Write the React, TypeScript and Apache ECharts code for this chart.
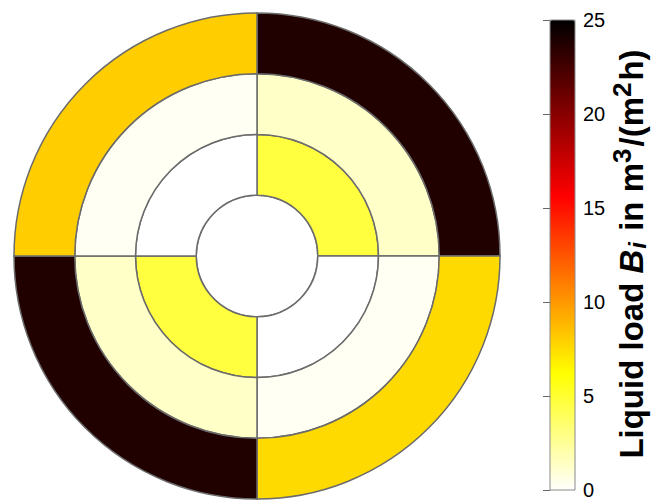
import React, { useEffect, useRef } from "react";
import * as echarts from "echarts";

// Quadrants, clockwise from the top (angle axis values in degrees)
const quadrants = ["NE", "SE", "SW", "NW"];
const quadrantStart = [0, 90, 180, 270];
const quadrantEnd = [90, 180, 270, 360];

// Ring edges on the radius axis (centre disc = ring 0)
const ringInner = [0, 1, 2, 3];
const ringOuter = [1, 2, 3, 4];

// Liquid load per ring and quadrant (NE, SE, SW, NW)
const centreValue = 0;
const ring1Values = [4.7, 0, 4.7, 0];
const ring2Values = [1.35, 0.3, 1.35, 0.3];
const ring3Values = [23.8, 7.6, 23.8, 8.1];

// Colour bar ticks
const colorbarTicks = [0, 5, 10, 15, 20, 25];

// reversed "hot" colormap stops (evenly spaced 0..25)
const hotReversed = [
  "#ffffff", "#ffff80", "#ffff00", "#ffaa00", "#ff5500",
  "#ff0000", "#aa0000", "#550000", "#000000",
];

export default function App() {
  const ref = useRef<HTMLDivElement>(null);
  useEffect(() => {
    document.body.style.margin = "0";
    const chart = echarts.init(ref.current!, null, { renderer: "svg" });

    const data: number[][] = [];
    data.push([ringInner[0], ringOuter[0], 0, 360, centreValue]);
    const rings = [ring1Values, ring2Values, ring3Values];
    rings.forEach((vals, ri) => {
      vals.forEach((v, qi) => {
        data.push([ringInner[ri + 1], ringOuter[ri + 1], quadrantStart[qi], quadrantEnd[qi], v]);
      });
    });

    const font = "'Liberation Sans', Arial, sans-serif";

    const option: any = {
      animation: false,
      polar: { center: [257, 256], radius: 243 },
      angleAxis: {
        type: "value", min: 0, max: 360, startAngle: 90, clockwise: true,
        show: false, splitLine: { show: false },
      },
      radiusAxis: { type: "value", min: 0, max: 4, show: false, splitLine: { show: false } },
      grid: {
        left: 550, top: 20, width: 25, height: 471, show: true,
        borderColor: "#8a8a8a", borderWidth: 1, backgroundColor: "transparent", z: 10,
      },
      xAxis: { type: "value", min: 0, max: 1, show: false },
      yAxis: {
        type: "value", min: colorbarTicks[0], max: colorbarTicks[colorbarTicks.length - 1],
        interval: 5, position: "right", z: 10,
        axisLine: { show: false },
        axisTick: { show: true, inside: true, length: 7, lineStyle: { color: "#666", width: 1 } },
        splitLine: { show: false },
        axisLabel: { fontSize: 20, color: "#000", margin: 8, fontFamily: font },
        name: "Liquid load {bi|B}{sub|i} in m{sup|3}/(m{sup|2}h)",
        nameLocation: "middle", nameRotate: 90, nameGap: 16,
        nameTextStyle: {
          fontSize: 33, fontWeight: "bold", color: "#000", fontFamily: font,
          padding: [0, 0, 0, 2],
          rich: {
            bi: { fontSize: 33, fontWeight: "bold", fontStyle: "italic", color: "#000", fontFamily: font, padding: [0, 1, 0, 0] },
            sub: { fontSize: 24, fontWeight: "bold", fontStyle: "italic", color: "#000", fontFamily: font, padding: [13, 2, 0, 0] },
            sup: { fontSize: 26, fontWeight: "bold", color: "#000", fontFamily: font, padding: [0, 2, 18, 0] },
          },
        },
      },
      visualMap: {
        type: "continuous", min: 0, max: 25, dimension: 4, seriesIndex: 0,
        left: 550, top: 20, itemWidth: 25, itemHeight: 471, padding: 0,
        calculable: false, showLabel: false, text: null,
        inRange: { color: hotReversed },
      },
      series: [
        {
          type: "custom",
          coordinateSystem: "polar",
          encode: { radius: [0, 1], angle: [2, 3] },
          data,
          renderItem: (params: any, api: any) => {
            const r0v = api.value(0), r1v = api.value(1);
            const a0 = api.value(2), a1 = api.value(3);
            const c = api.coord([0, 0]);
            const pIn = api.coord([r0v, a0]);
            const pOut = api.coord([r1v, a0]);
            const pEnd = api.coord([r1v, a1]);
            const rIn = Math.hypot(pIn[0] - c[0], pIn[1] - c[1]);
            const rOut = Math.hypot(pOut[0] - c[0], pOut[1] - c[1]);
            const color = api.visual("color");
            const style = { fill: color, stroke: "#6b6b6b", lineWidth: 1.5 };
            if (a1 - a0 >= 360) {
              return { type: "circle", shape: { cx: c[0], cy: c[1], r: rOut }, style };
            }
            const sa = Math.atan2(pOut[1] - c[1], pOut[0] - c[0]);
            const ea = Math.atan2(pEnd[1] - c[1], pEnd[0] - c[0]);
            return {
              type: "sector",
              shape: { cx: c[0], cy: c[1], r0: rIn, r: rOut, startAngle: sa, endAngle: ea, clockwise: true },
              style,
            };
          },
        },
        { type: "line", xAxisIndex: 0, yAxisIndex: 0, data: [], silent: true },
      ],
    };
    chart.setOption(option);
    return () => chart.dispose();
  }, []);
  return <div ref={ref} style={{ width: 656, height: 500 }} />;
}
